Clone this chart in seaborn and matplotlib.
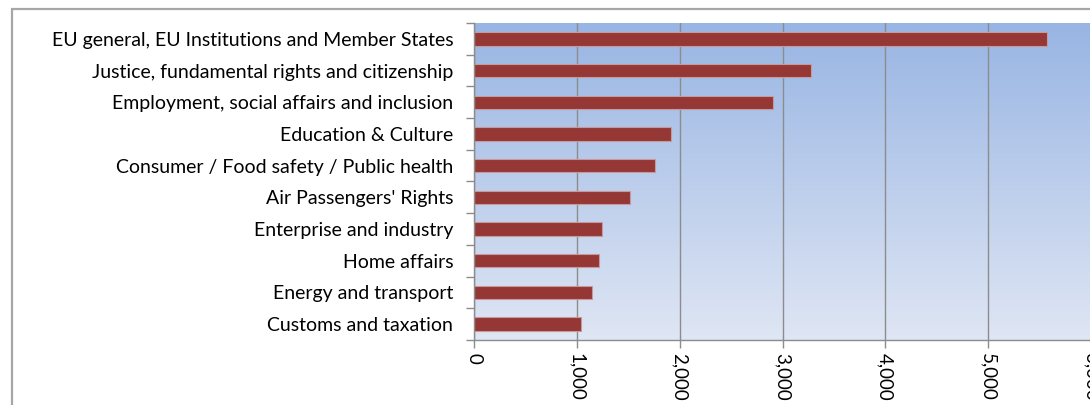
import numpy as np
import pandas as pd
import matplotlib
matplotlib.use("Agg")
import matplotlib.pyplot as plt
import seaborn as sns
from matplotlib.colors import LinearSegmentedColormap
from matplotlib.patches import Rectangle
from matplotlib.ticker import FuncFormatter

# Data (top to bottom)
categories = [
    "EU general, EU Institutions and Member States",
    "Justice, fundamental rights and citizenship",
    "Employment, social affairs and inclusion",
    "Education & Culture",
    "Consumer / Food safety / Public health",
    "Air Passengers' Rights",
    "Enterprise and industry",
    "Home affairs",
    "Energy and transport",
    "Customs and taxation",
]
values = [5575, 3278, 2912, 1920, 1764, 1518, 1240, 1216, 1148, 1038]
x_ticks = [0, 1000, 2000, 3000, 4000, 5000, 6000]

df = pd.DataFrame({"category": categories, "value": values})

sns.set_style("white")
plt.rcParams["font.family"] = ["Lato", "DejaVu Sans"]

fig = plt.figure(figsize=(10.9, 4.05), dpi=100)
ax = fig.add_axes([474 / 1090, 1 - 340 / 405, 617 / 1090, (340 - 23) / 405])

# outer chart border (cropped at right and bottom)
fig.patches.append(Rectangle((12 / 1090, -0.1), 1.2, 0.1 + (1 - 9 / 405),
                             transform=fig.transFigure, fill=False,
                             edgecolor="#A6A6A6", lw=1.6, zorder=0))

# gradient plot-area background
grad_cmap = LinearSegmentedColormap.from_list("bg", ["#DFE6F4", "#98B5E3"])
grad = np.linspace(0, 1, 256).reshape(-1, 1)
ax.imshow(grad, cmap=grad_cmap, origin="lower", aspect="auto",
          extent=[0, 1, 0, 1], transform=ax.transAxes, zorder=0)

sns.barplot(data=df, x="value", y="category", orient="h", ax=ax,
            color="#953735", saturation=1, width=0.42,
            edgecolor="#C49A9C", linewidth=0.8, zorder=3)

ax.set_xlim(0, 6000)
ax.set_ylim(len(categories) - 0.5, -0.5)
ax.set_xticks(x_ticks)
ax.xaxis.set_major_formatter(FuncFormatter(lambda v, p: f"{int(v):,}"))
ax.set_xlabel("")
ax.set_ylabel("")

ax.grid(axis="x", color="#8C8C8C", lw=1.0, zorder=1)
ax.set_axisbelow(False)
for line in ax.get_xgridlines():
    line.set_zorder(1)

for side in ["top", "right"]:
    ax.spines[side].set_visible(False)
for side in ["left", "bottom"]:
    ax.spines[side].set_color("#8C8C8C")
    ax.spines[side].set_linewidth(1.0)
    ax.spines[side].set_zorder(4)

# category tick marks sit between bars
ax.set_yticks(np.arange(len(categories) + 1) - 0.5, minor=True)
ax.tick_params(axis="y", which="major", length=0, pad=15, labelsize=14,
               labelcolor="black")
ax.tick_params(axis="y", which="minor", left=True, length=5.5,
               color="#8C8C8C", width=1.0, direction="out")
ax.tick_params(axis="x", which="major", bottom=True, length=5.5,
               color="#8C8C8C", width=1.0, direction="out", pad=4,
               labelsize=13.5, labelcolor="black")
for lab in ax.get_xticklabels():
    lab.set_rotation(-90)
    lab.set_ha("center")
    lab.set_va("top")

fig.savefig("out.png", dpi=100)
